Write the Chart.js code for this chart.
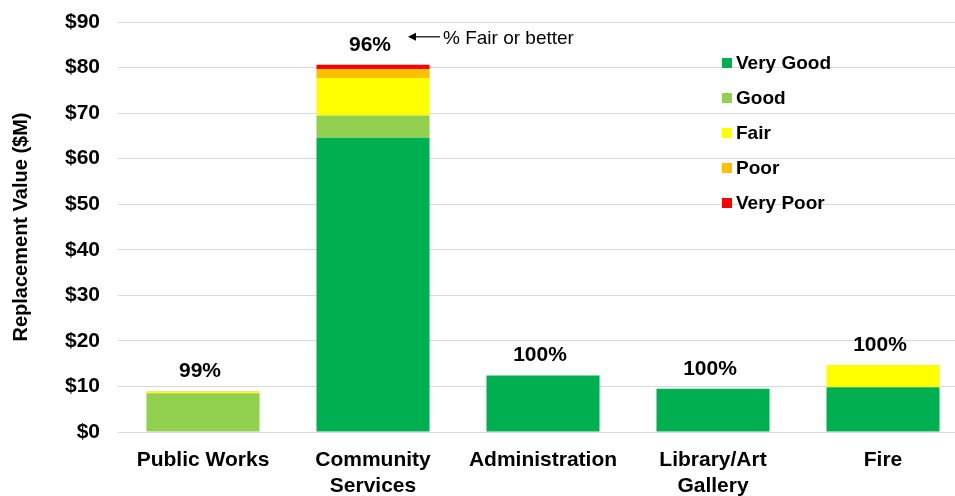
<!DOCTYPE html>
<html>
<head>
<meta charset="utf-8">
<script src="https://cdn.jsdelivr.net/npm/chart.js@4/dist/chart.umd.min.js"></script>
<style>
  html, body { margin: 0; padding: 0; background: #fff; overflow: hidden; }
</style>
</head>
<body>
<canvas id="myChart" width="968" height="496"></canvas>
<script>
// replacement value by department, $M, split by condition rating
let categories = ["Public Works", ["Community", "Services"], "Administration", ["Library/Art", "Gallery"], "Fire"];
let veryGood = [0, 64.6, 12.4, 9.5, 9.8];
let good = [8.5, 4.9, 0, 0, 0];
let fair = [0.3, 8.2, 0, 0, 4.9];
let poor = [0.1, 2.0, 0, 0, 0];
let veryPoor = [0, 0.9, 0, 0, 0];
let yTicks = [0, 10, 20, 30, 40, 50, 60, 70, 80, 90];

let font = "'Liberation Sans', Arial, sans-serif";

let datasets = [
  { label: "Very Good", data: veryGood, backgroundColor: "#00B050" },
  { label: "Good", data: good, backgroundColor: "#92D050" },
  { label: "Fair", data: fair, backgroundColor: "#FFFF00" },
  { label: "Poor", data: poor, backgroundColor: "#FFC000" },
  { label: "Very Poor", data: veryPoor, backgroundColor: "#FF0000" },
];

// % of value rated fair or better, written above each stack
const pctPlugin = {
  id: "pctPlugin",
  afterDatasetsDraw(chart) {
    let ctx = chart.ctx;
    let x = chart.scales.x;
    let y = chart.scales.y;
    ctx.save();
    ctx.fillStyle = "#000";
    ctx.font = "bold 21px " + font;
    ctx.textAlign = "center";
    ctx.textBaseline = "middle";
    for (let i = 0; i < categories.length; i++) {
      let total = veryGood[i] + good[i] + fair[i] + poor[i] + veryPoor[i];
      let ok = veryGood[i] + good[i] + fair[i];
      let pct = Math.round((ok / total) * 100) + "%";
      let cx = x.getPixelForValue(i);
      let top = y.getPixelForValue(total);
      ctx.fillText(pct, cx - 3, top - 20);
      if (i == 1) {
        // note pointing at the first label
        let ly = top - 28;
        ctx.strokeStyle = "#000";
        ctx.lineWidth = 1.2;
        ctx.beginPath();
        ctx.moveTo(cx + 67, ly);
        ctx.lineTo(cx + 38, ly);
        ctx.stroke();
        ctx.beginPath();
        ctx.moveTo(cx + 35, ly);
        ctx.lineTo(cx + 43, ly - 4);
        ctx.lineTo(cx + 43, ly + 4);
        ctx.closePath();
        ctx.fill();
        ctx.font = "19px " + font;
        ctx.textAlign = "left";
        ctx.fillText("% Fair or better", cx + 70, ly + 2);
        ctx.font = "bold 21px " + font;
        ctx.textAlign = "center";
      }
    }
    ctx.restore();
  },
};

// legend block on the right, inside the plot
const legendPlugin = {
  id: "legendPlugin",
  afterDraw(chart) {
    let ctx = chart.ctx;
    ctx.save();
    ctx.font = "bold 19px " + font;
    ctx.textBaseline = "middle";
    ctx.textAlign = "left";
    chart.data.datasets.forEach((ds, i) => {
      let yy = 63 + i * 35;
      ctx.fillStyle = ds.backgroundColor;
      ctx.fillRect(722, yy - 5, 10, 10);
      ctx.fillStyle = "#000";
      ctx.fillText(ds.label, 736, yy + 1);
    });
    ctx.restore();
  },
};

let ctx = document.getElementById("myChart").getContext("2d");
let myChart = new Chart(ctx, {
  type: "bar",
  data: { labels: categories, datasets: datasets },
  options: {
    responsive: false,
    animation: false,
    layout: { padding: { top: 22, right: 0, left: 0, bottom: 0 } },
    datasets: {
      bar: { categoryPercentage: 1, barPercentage: 0.665 },
    },
    plugins: {
      legend: { display: false },
      tooltip: { enabled: false },
    },
    scales: {
      x: {
        stacked: true,
        grid: { display: false },
        border: { display: false },
        ticks: {
          color: "#000",
          font: { family: font, size: 21, weight: "bold" },
          padding: 8,
          maxRotation: 0,
        },
        afterFit(scale) {
          scale.height = 64;
          scale.paddingLeft = 0;
          scale.paddingRight = 0;
        },
      },
      y: {
        stacked: true,
        min: 0,
        max: 90,
        afterBuildTicks(scale) {
          scale.ticks = yTicks.map((v) => ({ value: v }));
        },
        grid: { color: "#d9d9d9", lineWidth: 1, drawTicks: false },
        border: { display: false },
        ticks: {
          color: "#000",
          font: { family: font, size: 21, weight: "bold" },
          padding: 18,
          callback: function (value) {
            return "$" + value;
          },
        },
        title: {
          display: true,
          text: "Replacement Value ($M)",
          color: "#000",
          font: { family: font, size: 20, weight: "bold" },
          padding: { top: 9, bottom: 0 },
        },
        afterFit(scale) {
          scale.width = 118;
          scale.paddingTop = 0;
          scale.paddingBottom = 0;
        },
      },
    },
  },
  plugins: [pctPlugin, legendPlugin],
});
</script>
</body>
</html>
